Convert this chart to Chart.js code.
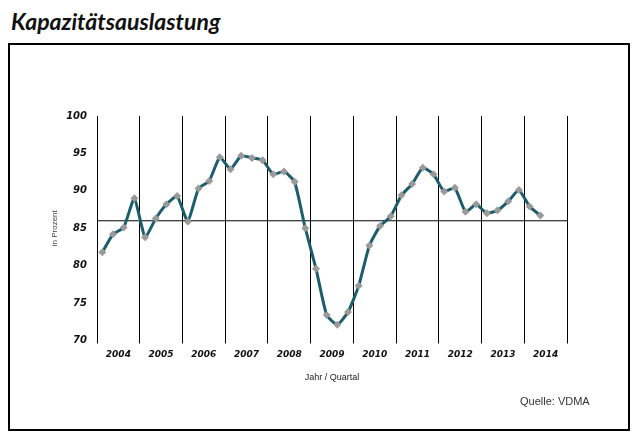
<!DOCTYPE html>
<html>
<head>
<meta charset="utf-8">
<script src="https://cdn.jsdelivr.net/npm/chart.js@4"></script>
<style>
  html, body { margin: 0; padding: 0; background: #fff; width: 636px; height: 441px; overflow: hidden; }
  #title { position: absolute; left: 11px; top: 7px; font: italic bold 23px "Lato", sans-serif; color: #111; white-space: nowrap; }
  #box { position: absolute; left: 8px; top: 43px; width: 622px; height: 388px; box-sizing: border-box; border: 2px solid #000; }
  #source { position: absolute; left: 520px; top: 395px; font: 11px "Liberation Sans", Arial, sans-serif; color: #333; }
  #wrap { position: absolute; left: 0; top: 0; width: 636px; height: 441px; }
</style>
</head>
<body>
<div id="title">Kapazitätsauslastung</div>
<div id="box"></div>
<div id="wrap"><canvas id="c" width="636" height="441"></canvas></div>
<div id="source">Quelle: VDMA</div>
<script>
// Years on the x axis (each with 4 quarters)
const years = ['2004','2005','2006','2007','2008','2009','2010','2011','2012','2013','2014'];
const quartersPerYear = 4;
// Capacity utilisation in percent, quarterly from 2004 Q1 to 2014 Q2
const utilisation = [
  81.8, 84.2, 85.1, 89.0,
  83.8, 86.3, 88.2, 89.3,
  85.9, 90.3, 91.3, 94.5,
  92.9, 94.7, 94.4, 94.1,
  92.2, 92.6, 91.2, 85.0,
  79.6, 73.4, 72.1, 73.8,
  77.3, 82.7, 85.3, 86.6,
  89.4, 90.9, 93.1, 92.2,
  89.9, 90.4, 87.2, 88.2,
  87.0, 87.4, 88.6, 90.1,
  87.9, 86.7
];
// Long-term average reference line
const referenceLevel = 86;
const yTicks = { min: 70, max: 100, step: 5 };

const totalQuarters = years.length * quartersPerYear;
const points = utilisation.map((v, i) => ({ x: i + 0.5, y: v }));
const refLine = [{ x: 0, y: referenceLevel }, { x: totalQuarters, y: referenceLevel }];

new Chart(document.getElementById('c'), {
  type: 'line',
  data: {
    datasets: [
      {
        data: points,
        xAxisID: 'x',
        borderColor: '#1c5d6b',
        borderWidth: 3,
        tension: 0.15,
        pointStyle: 'rectRot',
        pointRadius: 4,
        pointBackgroundColor: '#9a9a9a',
        pointBorderColor: '#9a9a9a',
        pointBorderWidth: 0,
        order: 1
      },
      {
        data: refLine,
        xAxisID: 'x',
        borderColor: '#000',
        borderWidth: 1,
        pointRadius: 0,
        tension: 0,
        order: 2
      }
    ]
  },
  options: {
    responsive: false,
    animation: false,
    events: [],
    layout: { padding: { left: 0, right: 69, top: 116, bottom: 58 } },
    plugins: { legend: { display: false }, tooltip: { enabled: false } },
    scales: {
      x: {
        type: 'linear',
        position: 'bottom',
        weight: 0,
        min: 0,
        max: totalQuarters,
        ticks: { stepSize: quartersPerYear, display: false },
        grid: { color: '#000', lineWidth: 1, drawTicks: true, tickLength: 3, tickColor: '#000' },
        border: { display: false },
        afterFit: s => { s.height = 3; }
      },
      xYear: {
        type: 'category',
        position: 'bottom',
        weight: 1,
        labels: years,
        offset: true,
        grid: { display: false, drawTicks: false },
        border: { display: false },
        ticks: {
          autoSkip: false, maxRotation: 0, padding: 6, color: '#111',
          font: { family: 'DejaVu Sans', size: 9, style: 'italic', weight: 'bold' }
        },
        title: {
          display: true, text: 'Jahr / Quartal', color: '#222',
          font: { family: 'Liberation Sans', size: 9 }, padding: { top: 0, bottom: 0 }
        },
        afterFit: s => { s.height = 39.5; }
      },
      y: {
        min: yTicks.min,
        max: yTicks.max,
        ticks: {
          stepSize: yTicks.step, padding: 10, color: '#111',
          font: { family: 'DejaVu Sans', size: 10, style: 'italic', weight: 'bold' }
        },
        grid: { display: false, drawTicks: false },
        border: { display: false },
        title: {
          display: true, text: 'in Prozent', color: '#444',
          font: { family: 'Liberation Sans', size: 8 }, padding: { top: 50, bottom: 0 }
        },
        afterFit: s => { s.width = 97; }
      }
    }
  }
});
</script>
</body>
</html>
